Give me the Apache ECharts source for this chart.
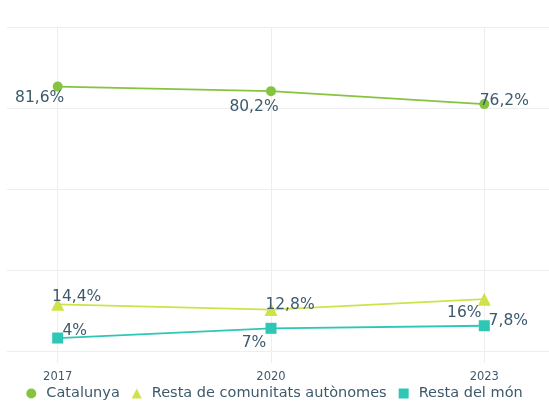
<!DOCTYPE html>
<html>
<head>
<meta charset="utf-8">
<script src="https://cdn.jsdelivr.net/npm/echarts@6/dist/echarts.min.js"></script>
<style>
  html, body { margin: 0; padding: 0; background: #fff; }
  #chart { width: 549px; height: 408px; }
</style>
</head>
<body>
<div id="chart"></div>
<script>
const years = ['2017', '2020', '2023'];
const catalunya = [81.6, 80.2, 76.2];
const restaComunitats = [14.4, 12.8, 16];
const restaMon = [4, 7, 7.8];
const seriesNames = ['Catalunya', 'Resta de comunitats autònomes', 'Resta del món'];

// label offsets per point
const catOffsets = [[-18, 11], [-17, 16], [20, -3]];
const comOffsets = [[19, -7], [19, -5], [-20, 14]];
const monOffsets = [[17, -7], [-17, 15], [24, -5]];

const txt = '#3d5a6c';
const font = 'DejaVu Sans';

const fmt = v => String(v).replace('.', ',') + '%';

const withLabels = (vals, offs) => vals.map((v, i) => ({
    value: v,
    label: { offset: offs[i] }
}));

const lineSeries = (name, vals, offs, color, symbol, size) => ({
    name: name,
    type: 'line',
    xAxisIndex: 1,
    yAxisIndex: 1,
    data: withLabels(vals, offs),
    symbol: symbol,
    symbolSize: size,
    color: color,
    lineStyle: { width: 1.8, color: color },
    itemStyle: { color: color },
    label: {
        show: true,
        position: 'inside',
        align: 'center',
        verticalAlign: 'middle',
        color: txt,
        fontFamily: font,
        fontSize: 15.5,
        formatter: p => fmt(p.value)
    },
    animation: false
});

const chart = echarts.init(document.getElementById('chart'));
chart.setOption({
    textStyle: { fontFamily: font },
    grid: [
        { left: 7, right: 0, top: 27, bottom: 57 },
        { left: 57.7, right: 64.7, top: 27, bottom: 57 }
    ],
    xAxis: [
        { gridIndex: 0, type: 'value', show: false },
        {
            gridIndex: 1,
            type: 'category',
            data: years,
            boundaryGap: false,
            axisLine: { show: false },
            axisTick: { show: true, length: 12, lineStyle: { color: '#eeeeee' } },
            axisLabel: { color: txt, fontSize: 11.5, margin: 20 },
            splitLine: { show: true, lineStyle: { color: '#eeeeee', width: 1 } }
        }
    ],
    yAxis: [
        {
            gridIndex: 0,
            type: 'value',
            min: 0,
            max: 100,
            interval: 25,
            axisLine: { show: false },
            axisTick: { show: false },
            axisLabel: { show: false },
            splitLine: { lineStyle: { color: '#eeeeee', width: 1 } }
        },
        {
            gridIndex: 1,
            type: 'value',
            min: 0,
            max: 100,
            show: false
        }
    ],
    legend: {
        bottom: 2,
        left: 'center',
        itemWidth: 10,
        itemHeight: 10,
        itemGap: 12,
        textStyle: { color: txt, fontSize: 14.5, fontFamily: font, padding: [0, 0, 0, 5] },
        data: [
            { name: seriesNames[0], icon: 'circle' },
            { name: seriesNames[1], icon: 'triangle' },
            { name: seriesNames[2], icon: 'rect' }
        ]
    },
    series: [
        lineSeries(seriesNames[0], catalunya, catOffsets, '#86c440', 'circle', 10),
        lineSeries(seriesNames[1], restaComunitats, comOffsets, '#cfe24a', 'triangle', 13),
        lineSeries(seriesNames[2], restaMon, monOffsets, '#2ec7b6', 'rect', 11)
    ]
});
</script>
</body>
</html>
